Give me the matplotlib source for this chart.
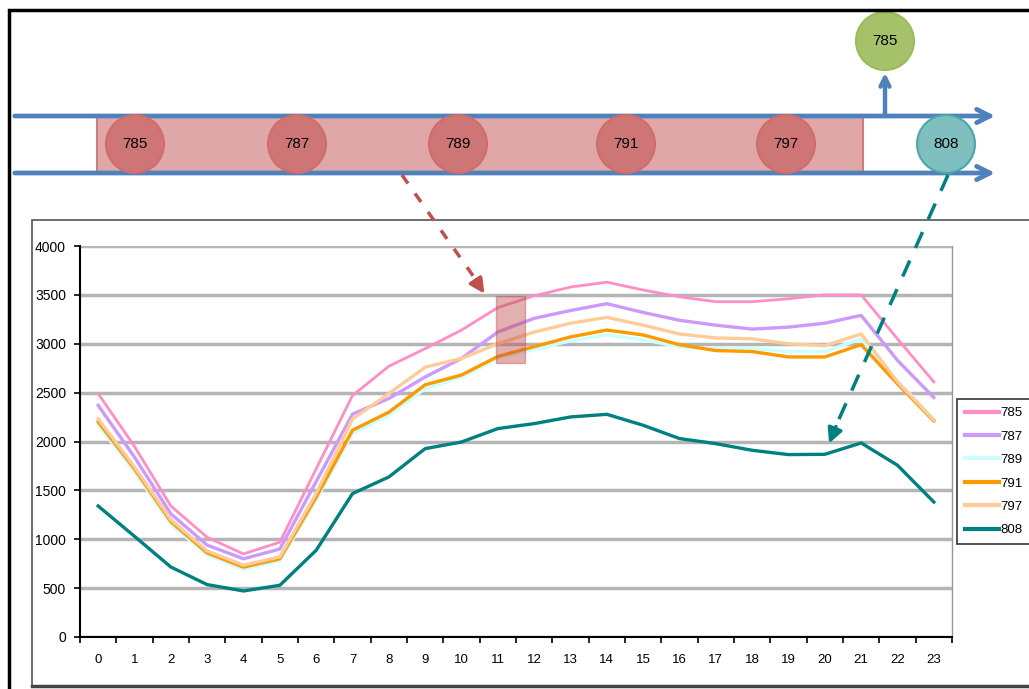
import matplotlib
matplotlib.use("Agg")
import matplotlib.pyplot as plt
from matplotlib.patches import Rectangle, Circle
import numpy as np

plt.rcParams['font.family'] = ['Liberation Sans', 'DejaVu Sans']

# hourly load per station (0..23 h)
hours = list(range(24))
s785 = [2490, 1950, 1340, 1020, 850, 970, 1720, 2470, 2770, 2950, 3140, 3370,
        3490, 3580, 3630, 3550, 3480, 3430, 3430, 3460, 3500, 3500, 3050, 2610]
s787 = [2370, 1840, 1260, 940, 800, 900, 1590, 2280, 2440, 2660, 2850, 3120,
        3260, 3340, 3410, 3320, 3240, 3190, 3150, 3170, 3210, 3290, 2830, 2450]
s789 = [2170, 1690, 1150, 840, 690, 780, 1400, 2080, 2270, 2540, 2660, 2850,
        2940, 3030, 3090, 3040, 2970, 2950, 2950, 2920, 2920, 3050, 2620, 2230]
s791 = [2200, 1720, 1180, 860, 715, 800, 1430, 2115, 2300, 2580, 2680, 2870,
        2970, 3070, 3140, 3090, 2990, 2930, 2920, 2865, 2865, 2990, 2590, 2210]
s797 = [2230, 1740, 1200, 880, 735, 820, 1470, 2230, 2490, 2760, 2850, 3000,
        3120, 3210, 3270, 3190, 3100, 3060, 3050, 3000, 2980, 3100, 2610, 2220]
s808 = [1340, 1030, 716, 536, 471, 529, 887, 1467, 1637, 1927, 1995, 2132,
        2183, 2251, 2278, 2166, 2030, 1978, 1910, 1866, 1869, 1985, 1757, 1381]

series = [("785", s785, "#ff8ec6", 2.0),
          ("787", s787, "#cc99ff", 2.4),
          ("789", s789, "#ccffff", 2.4),
          ("791", s791, "#ff9900", 2.4),
          ("797", s797, "#ffcc99", 2.4),
          ("808", s808, "#008080", 2.4)]

stations = ["785", "787", "789", "791", "797"]
station_x = [135, 297, 458, 626, 786]

W, H = 1029, 689
fig = plt.figure(figsize=(W / 100, H / 100), dpi=100)

# background canvas in pixel units
bg = fig.add_axes([0, 0, 1, 1], zorder=0)
bg.set_xlim(0, W)
bg.set_ylim(H, 0)
bg.axis("off")

# outer frame
bg.plot([9, 9, W + 5], [H + 5, 10, 10], color="black", lw=2.5, solid_joinstyle="miter")

# chart box
bg.add_patch(Rectangle((32, 220), W, 466, facecolor="white", edgecolor="#555555", lw=1.2))
bg.plot([32, W], [686, 686], color="#444444", lw=2.5)

# route band and stops
blue = "#4f81bd"
bg.add_patch(Rectangle((97, 118), 766, 55, facecolor="#dfa7a7", edgecolor="none"))
bg.plot([97, 97], [118, 173], color="#d07c7c", lw=1.5)
bg.plot([863, 863], [118, 173], color="#d07c7c", lw=1.5)
for yy in (116, 173):
    bg.annotate("", xy=(998, yy), xytext=(12, yy),
                arrowprops=dict(arrowstyle="->", color=blue, lw=3.4, mutation_scale=24))
bg.annotate("", xy=(885, 70), xytext=(885, 117),
            arrowprops=dict(arrowstyle="->", color=blue, lw=3.2, mutation_scale=16))

for name, cx in zip(stations, station_x):
    bg.add_patch(Circle((cx, 144), 29, facecolor="#cd7675", edgecolor="#d26b6b",
                        lw=1.5, zorder=3))
    bg.text(cx, 144, name, ha="center", va="center", fontsize=11, zorder=4)

bg.add_patch(Circle((885, 41), 29, facecolor="#a5c26b", edgecolor="#9bbb59", lw=1.5))
bg.text(885, 41, "785", ha="center", va="center", fontsize=11)
bg.add_patch(Circle((946, 144), 29, facecolor="#80bfbf", edgecolor="#4aa8a8",
                    lw=1.5, zorder=3))
bg.text(946, 144, "808", ha="center", va="center", fontsize=11, zorder=4)

# line chart
ax = fig.add_axes([80 / W, (H - 637) / H, (952 - 80) / W, (637 - 246) / H], zorder=1)
ax.patch.set_alpha(0)
for name, vals, col, lw in series:
    ax.plot(hours, vals, color=col, lw=lw, label=name, solid_joinstyle="round")

ax.set_xlim(-0.5, 23.5)
ax.set_ylim(0, 4000)
ax.set_yticks(np.arange(0, 4001, 500))
ax.set_xticks(hours)
ax.set_xticks(np.arange(-0.5, 24, 1), minor=True)
ax.tick_params(axis="x", which="major", length=0, pad=12, labelsize=9.5)
ax.tick_params(axis="x", which="minor", length=4, width=1.2, direction="out")
ax.tick_params(axis="y", length=4, width=1.2, direction="out", pad=6, labelsize=10)
ax.yaxis.grid(True, color="#b5b5b5", lw=2.5)
ax.set_axisbelow(True)
ax.spines["top"].set_visible(False)
ax.spines["right"].set_color("#999999")
ax.spines["right"].set_linewidth(1)
ax.spines["left"].set_linewidth(1.5)
ax.spines["bottom"].set_linewidth(1.5)

# highlighted window around 11 h
ax.add_patch(Rectangle((10.96, 2800), 0.78, 690, facecolor="#c0504d", alpha=0.45,
                       edgecolor="#c0504d", lw=1, zorder=5))

leg = fig.legend(loc="upper left", bbox_to_anchor=(957 / W, 1 - 399 / H),
                 fontsize=9.5, frameon=True, fancybox=False, handlelength=2.6,
                 handletextpad=0.1, labelspacing=0.85, borderpad=0.6,
                 borderaxespad=0)
leg.get_frame().set_edgecolor("black")
leg.get_frame().set_linewidth(1.2)
for lh in leg.get_lines():
    lh.set_linewidth(3)

# dashed callout arrows
fg = fig.add_axes([0, 0, 1, 1], zorder=3)
fg.set_xlim(0, W)
fg.set_ylim(H, 0)
fg.axis("off")
fg.plot([402, 476], [175, 280], color="#c0504d", lw=2.5, ls=(0, (3, 3.5)))
fg.annotate("", xy=(486, 296), xytext=(474, 278),
            arrowprops=dict(arrowstyle="-|>", color="#c0504d", lw=2.5, mutation_scale=22))
fg.plot([948, 835], [175, 428], color="#008080", lw=2.5, ls=(0, (5, 4)))
fg.annotate("", xy=(828, 446), xytext=(837, 424),
            arrowprops=dict(arrowstyle="-|>", color="#008080", lw=2.5, mutation_scale=22))

fig.savefig("out.png", dpi=100)
